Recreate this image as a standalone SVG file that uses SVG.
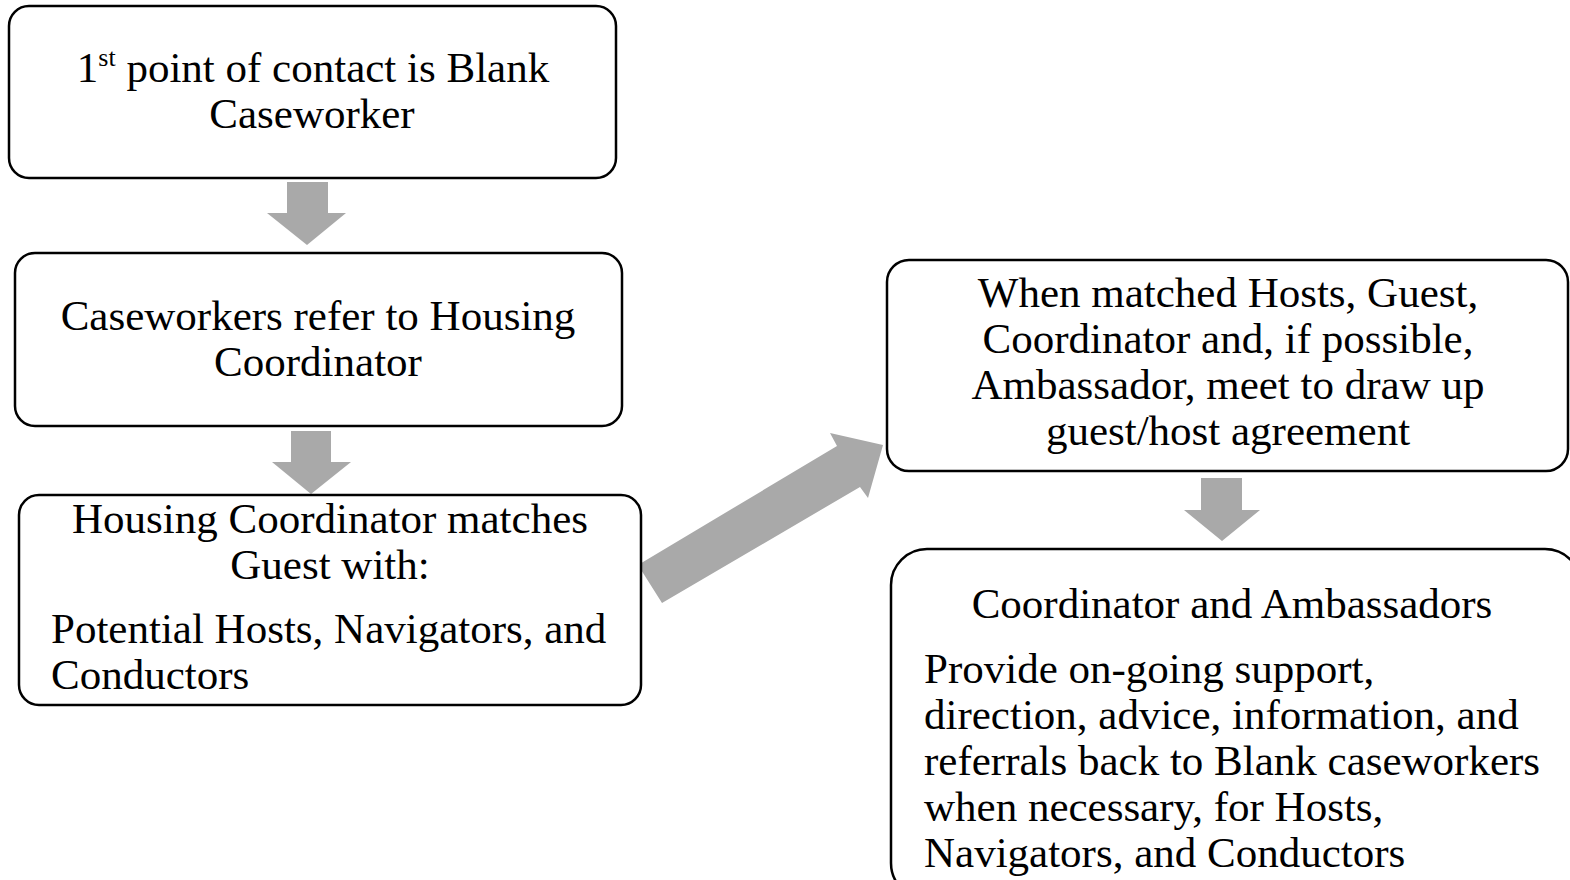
<svg xmlns="http://www.w3.org/2000/svg" width="1570" height="880" viewBox="0 0 1570 880">
  <style>
    .box { fill: #ffffff; stroke: #000000; stroke-width: 2.5; }
    .arrow { fill: #a9a9a9; stroke: none; }
    text { font-family: "Liberation Serif", "Times New Roman", serif; font-size: 43px; fill: #000000; }
    .c { text-anchor: middle; }
    .sup { font-size: 26px; }
  </style>
  <rect x="0" y="0" width="1570" height="880" fill="#ffffff"/>

  <g id="connectors">
    <polygon class="arrow" points="287,182 328,182 328,213 346,213 307,245 267,213 287,213"/>
    <polygon class="arrow" points="291,431 331,431 331,462 351,462 311,494 272,462 291,462"/>
    <polygon class="arrow" points="638,565 837,446 830,433 883,445 868,498 860,487 662,603"/>
    <polygon class="arrow" points="1201,478 1242,478 1242,510 1260,510 1222,541 1184,510 1201,510"/>
  </g>

  <g id="node-first-contact">
    <rect class="box" x="9" y="6" width="607" height="172" rx="20"/>
    <text class="c" x="313" y="82">1<tspan class="sup" dy="-16">st</tspan><tspan dy="16"> point of contact is Blank</tspan></text>
    <text class="c" x="312" y="128">Caseworker</text>
  </g>

  <g id="node-caseworkers-refer">
    <rect class="box" x="15" y="253" width="607" height="173" rx="20"/>
    <text class="c" x="318" y="330">Caseworkers refer to Housing</text>
    <text class="c" x="318" y="376">Coordinator</text>
  </g>

  <g id="node-coordinator-matches">
    <rect class="box" x="19" y="495" width="622" height="210" rx="20"/>
    <text class="c" x="330" y="533">Housing Coordinator matches</text>
    <text class="c" x="330" y="579">Guest with:</text>
    <text x="51" y="643">Potential Hosts, Navigators, and</text>
    <text x="51" y="689">Conductors</text>
  </g>

  <g id="node-agreement">
    <rect class="box" x="887" y="260" width="681" height="211" rx="22"/>
    <text class="c" x="1228" y="307">When matched Hosts, Guest,</text>
    <text class="c" x="1228" y="353">Coordinator and, if possible,</text>
    <text class="c" x="1228" y="399">Ambassador, meet to draw up</text>
    <text class="c" x="1228" y="445">guest/host agreement</text>
  </g>

  <g id="node-ongoing-support">
    <rect class="box" x="891" y="549" width="690" height="350" rx="36"/>
    <text class="c" x="1232" y="618">Coordinator and Ambassadors</text>
    <text x="924" y="683">Provide on-going support,</text>
    <text x="924" y="729">direction, advice, information, and</text>
    <text x="924" y="775">referrals back to Blank caseworkers</text>
    <text x="924" y="821">when necessary, for Hosts,</text>
    <text x="924" y="867">Navigators, and Conductors</text>
  </g>
</svg>
